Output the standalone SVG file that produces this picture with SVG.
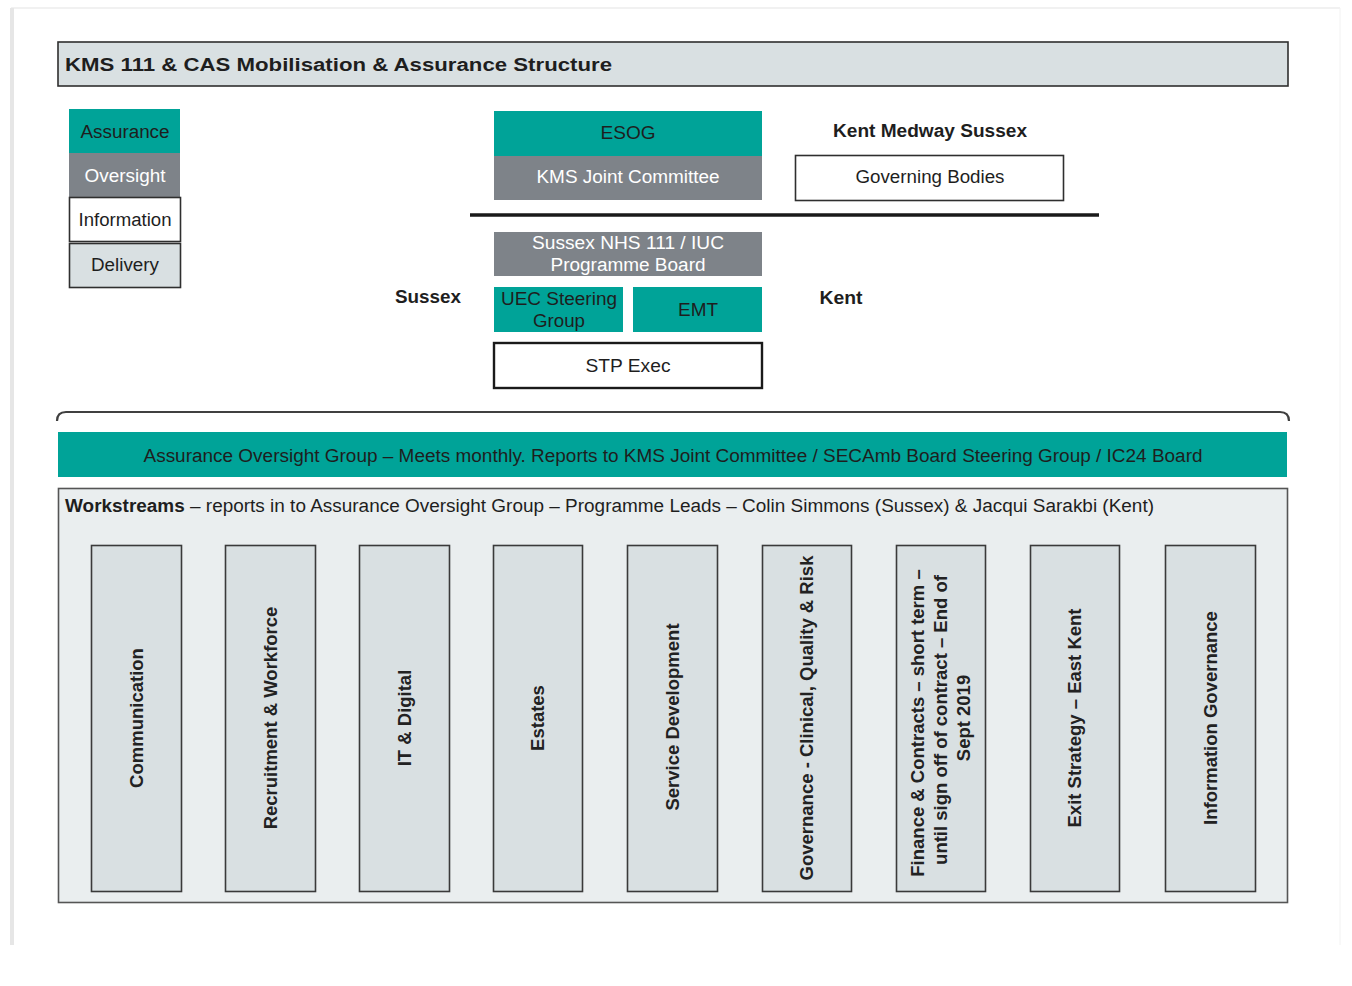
<svg xmlns="http://www.w3.org/2000/svg" width="1352" height="986" viewBox="0 0 1352 986">
<defs>
<style>
text{font-family:"Liberation Sans Narrow","Liberation Sans",Arial,sans-serif;font-size:18px;fill:#1e1e1e}
.b{font-weight:bold;font-family:"Liberation Sans",Arial,sans-serif}
.c{text-anchor:middle}
.w{fill:#ffffff}
.teal{fill:#00a398}
.gray{fill:#7e8389}
.box{stroke:#2f2f2f;stroke-width:1.6}
.light{fill:#d9e0e2}
.col{fill:#d9e0e2;stroke:#3a3a3a;stroke-width:1.6}
.ct{font-family:"Liberation Sans",Arial,sans-serif;font-weight:bold;font-size:18.5px;text-anchor:middle;fill:#222}
</style>
</defs>
<rect width="1352" height="986" fill="#ffffff"/>
<!-- page frame -->
<g id="page-frame">
<line x1="11" y1="8" x2="1340" y2="8" stroke="#ececec" stroke-width="1.5"/>
<line x1="12" y1="8" x2="12" y2="945" stroke="#e6e6e6" stroke-width="4"/>
<line x1="1340" y1="8" x2="1340" y2="945" stroke="#f2f2f2" stroke-width="1"/>
</g>
<g id="title">
<rect x="58" y="42" width="1230" height="44" class="light box"/>
<text x="65" y="71" class="b" font-size="20" textLength="547" lengthAdjust="spacingAndGlyphs">KMS 111 &amp; CAS Mobilisation &amp; Assurance Structure</text>
</g>
<!-- legend -->
<g id="legend-assurance">
<rect x="69" y="109" width="111" height="44" class="teal"/>
<text x="125" y="138" class="c" textLength="89" lengthAdjust="spacingAndGlyphs">Assurance</text>
</g>
<g id="legend-oversight">
<rect x="69" y="153" width="111" height="44" class="gray"/>
<text x="125" y="182" class="c w" textLength="81" lengthAdjust="spacingAndGlyphs">Oversight</text>
</g>
<g id="legend-information">
<rect x="69.5" y="197.5" width="111" height="44" fill="#ffffff" class="box"/>
<text x="125" y="226" class="c" textLength="93" lengthAdjust="spacingAndGlyphs">Information</text>
</g>
<g id="legend-delivery">
<rect x="69.5" y="243.5" width="111" height="44" class="light box"/>
<text x="125" y="271" class="c" textLength="68" lengthAdjust="spacingAndGlyphs">Delivery</text>
</g>
<!-- upper structure -->
<g id="esog">
<rect x="494" y="111" width="268" height="45" class="teal"/>
<text x="628" y="139" class="c" textLength="55" lengthAdjust="spacingAndGlyphs">ESOG</text>
</g>
<g id="kms-joint-committee">
<rect x="494" y="156" width="268" height="44" class="gray"/>
<text x="628" y="183" class="c w" textLength="183" lengthAdjust="spacingAndGlyphs">KMS Joint Committee</text>
</g>
<g id="kent-medway-sussex-label">
<text x="930" y="137" class="c b" font-size="18" textLength="194" lengthAdjust="spacingAndGlyphs">Kent Medway  Sussex</text>
</g>
<g id="governing-bodies">
<rect x="795.5" y="155.5" width="268" height="45" fill="#ffffff" class="box" stroke-width="2"/>
<text x="930" y="183" class="c" textLength="149" lengthAdjust="spacingAndGlyphs">Governing Bodies</text>
</g>
<g id="divider">
<line x1="470" y1="215" x2="1099" y2="215" stroke="#1a1a1a" stroke-width="3.5"/>
</g>
<g id="sussex-nhs-111">
<rect x="494" y="232" width="268" height="44" class="gray"/>
<text x="628" y="249" class="c w" textLength="192" lengthAdjust="spacingAndGlyphs">Sussex NHS 111 / IUC</text>
<text x="628" y="271" class="c w" textLength="155" lengthAdjust="spacingAndGlyphs">Programme Board</text>
</g>
<g id="sussex-label">
<text x="428" y="303" class="c b" font-size="18" textLength="66" lengthAdjust="spacingAndGlyphs">Sussex</text>
</g>
<g id="uec-steering-group">
<rect x="494" y="287" width="129" height="45" class="teal"/>
<text x="559" y="305" class="c" textLength="116" lengthAdjust="spacingAndGlyphs">UEC Steering</text>
<text x="559" y="327" class="c" textLength="52" lengthAdjust="spacingAndGlyphs">Group</text>
</g>
<g id="emt">
<rect x="633" y="287" width="129" height="45" class="teal"/>
<text x="698" y="316" class="c" textLength="40" lengthAdjust="spacingAndGlyphs">EMT</text>
</g>
<g id="kent-label">
<text x="841" y="304" class="c b" font-size="18" textLength="43" lengthAdjust="spacingAndGlyphs">Kent</text>
</g>
<g id="stp-exec">
<rect x="494" y="343" width="268" height="45" fill="#ffffff" stroke="#1a1a1a" stroke-width="2.4"/>
<text x="628" y="372" class="c" textLength="85" lengthAdjust="spacingAndGlyphs">STP Exec</text>
</g>
<!-- bracket -->
<g id="connectors">
<path d="M57,421 Q57,412 66,412 L1280,412 Q1289,412 1289,421" fill="none" stroke="#404040" stroke-width="2.2"/>
</g>
<g id="assurance-oversight-group">
<rect x="58" y="432" width="1229" height="45" class="teal"/>
<text x="673" y="462" class="c" textLength="1059" lengthAdjust="spacingAndGlyphs">Assurance Oversight Group – Meets monthly. Reports to KMS Joint Committee / SECAmb Board Steering Group / IC24 Board</text>
</g>
<g id="workstreams">
<rect x="58.5" y="488.5" width="1229" height="414" fill="#eaeeef" stroke="#555" stroke-width="1.6"/>
<text x="65" y="512" textLength="1089" lengthAdjust="spacingAndGlyphs"><tspan class="b">Workstreams</tspan> – reports in to Assurance Oversight Group – Programme Leads – Colin Simmons (Sussex) &amp; Jacqui Sarakbi (Kent)</text>
</g>
<g id="ws-communication">
<rect x="91.5" y="545.5" width="90" height="346" class="col"/>
<text transform="translate(143,718) rotate(-90)" class="ct">Communication</text>
</g>
<g id="ws-recruitment">
<rect x="225.5" y="545.5" width="90" height="346" class="col"/>
<text transform="translate(277,718) rotate(-90)" class="ct">Recruitment &amp; Workforce</text>
</g>
<g id="ws-it-digital">
<rect x="359.5" y="545.5" width="90" height="346" class="col"/>
<text transform="translate(411,718) rotate(-90)" class="ct">IT &amp; Digital</text>
</g>
<g id="ws-estates">
<rect x="493.5" y="545.5" width="89" height="346" class="col"/>
<text transform="translate(544,718) rotate(-90)" class="ct">Estates</text>
</g>
<g id="ws-service-development">
<rect x="627.5" y="545.5" width="90" height="346" class="col"/>
<text transform="translate(679,717) rotate(-90)" class="ct">Service Development</text>
</g>
<g id="ws-governance">
<rect x="762.5" y="545.5" width="89" height="346" class="col"/>
<text transform="translate(813,718) rotate(-90)" class="ct">Governance - Clinical, Quality &amp; Risk</text>
</g>
<g id="ws-finance">
<rect x="896.5" y="545.5" width="89" height="346" class="col"/>
<text transform="translate(924,723) rotate(-90)" class="ct">Finance &amp; Contracts – short term –</text>
<text transform="translate(947,720) rotate(-90)" class="ct">until sign off of contract – End of</text>
<text transform="translate(970,718) rotate(-90)" class="ct">Sept 2019</text>
</g>
<g id="ws-exit-strategy">
<rect x="1030.5" y="545.5" width="89" height="346" class="col"/>
<text transform="translate(1081,718) rotate(-90)" class="ct">Exit Strategy – East Kent</text>
</g>
<g id="ws-information-governance">
<rect x="1165.5" y="545.5" width="90" height="346" class="col"/>
<text transform="translate(1217,718) rotate(-90)" class="ct">Information Governance</text>
</g>
</svg>
